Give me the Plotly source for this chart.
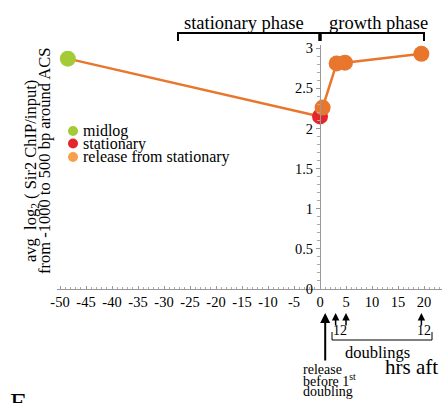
import plotly.graph_objects as go

# ---- data ----
hours = [-48.5, 0, 0.5, 3.2, 4.8, 19.5]
sir2_log2 = [2.87, 2.15, 2.26, 2.81, 2.82, 2.93]
stage = ["midlog", "stationary", "release", "release", "release", "release"]
stage_labels = ["midlog", "stationary", "release from stationary"]
x_ticks = [-50, -45, -40, -35, -30, -25, -20, -15, -10, -5, 0, 5, 10, 15, 20]
x_tick_labels = ["-50", "-45", "-40", "-35", "-30", "-25", "-20", "-15", "-10", "-5", "0", "5", "10", "15", "20"]
y_ticks = [0, 0.5, 1, 1.5, 2, 2.5, 3]
y_tick_labels = ["0", "0.5", "1", "1.5", "2", "2.5", "3"]
release_arrow_hr = 1.0
doubling_arrow_hrs = [3.0, 5.0, 19.5]

marker_colors = {"midlog": "#A3CB38", "stationary": "#E3262B", "release": "#E8762C"}
legend_colors = ["#A3CB38", "#E3262B", "#F6A04D"]
line_color = "#E8762C"
FONT = "Liberation Serif"

W, H = 442, 403
ML, MR, MT, MB = 57, 0, 45, 114
PW, PH = W - ML - MR, H - MT - MB
x_range = [-50.58, 23.46]
y_range = [0, 3.04]


def px(p):
    return (p - ML) / PW


def py(p):
    return (H - MB - p) / PH


fig = go.Figure()
fig.add_trace(go.Scatter(
    x=hours, y=sir2_log2, mode="lines+markers",
    line=dict(color=line_color, width=2.5),
    marker=dict(size=16, color=[marker_colors[s] for s in stage], line=dict(width=0)),
    showlegend=False, hoverinfo="x+y"))

yaxis_pos = (0 - x_range[0]) / (x_range[1] - x_range[0])

fig.update_layout(
    width=W, height=H,
    margin=dict(l=ML, r=MR, t=MT, b=MB, pad=0),
    paper_bgcolor="white", plot_bgcolor="white",
    font=dict(family=FONT, color="black"),
    xaxis=dict(range=x_range, tickmode="array", tickvals=x_ticks, ticktext=x_tick_labels,
               showgrid=False, zeroline=False, showline=True, linecolor="#999", linewidth=1,
               ticks="inside", ticklen=3, tickcolor="#999",
               minor=dict(tickmode="linear", tick0=0, dtick=1, ticks="inside", ticklen=2, tickcolor="#aaa"),
               tickfont=dict(family=FONT, size=14.5, color="black")),
    yaxis=dict(range=y_range, tickmode="array", tickvals=y_ticks, ticktext=y_tick_labels,
               anchor="free", position=yaxis_pos, side="left",
               showgrid=False, zeroline=False, showline=True, linecolor="#999", linewidth=1,
               ticks="outside", ticklen=4, tickcolor="#999",
               minor=dict(tickmode="linear", tick0=0, dtick=0.1, ticks="outside", ticklen=3, tickcolor="#aaa"),
               tickfont=dict(family=FONT, size=14.5, color="black")),
)

shapes = []
# top phase bracket
shapes.append(dict(type="line", xref="paper", yref="paper", x0=px(178), x1=px(424), y0=py(33), y1=py(33),
                   line=dict(color="black", width=2)))
for xp, w in [(178, 2), (320, 3.5), (424, 2)]:
    shapes.append(dict(type="line", xref="paper", yref="paper", x0=px(xp), x1=px(xp), y0=py(32), y1=py(41),
                       line=dict(color="black", width=w)))
# doublings bracket
shapes.append(dict(type="line", xref="paper", yref="paper", x0=px(332), x1=px(432), y0=py(340), y1=py(340),
                   line=dict(color="black", width=1)))
for xp in [332, 432]:
    shapes.append(dict(type="line", xref="paper", yref="paper", x0=px(xp), x1=px(xp), y0=py(340), y1=py(332),
                       line=dict(color="black", width=1)))
# legend dots
for i, c in enumerate(legend_colors):
    yc = [131, 143.5, 157][i]
    shapes.append(dict(type="circle", xref="paper", yref="paper", x0=px(68), x1=px(78),
                       y0=py(yc + 5), y1=py(yc - 5), fillcolor=c, line=dict(width=0)))
fig.update_layout(shapes=shapes)

ann = []


def text(t, xp, yp, size, xanchor="center", yanchor="middle", angle=0):
    ann.append(dict(text=t, xref="paper", yref="paper", x=px(xp), y=py(yp), showarrow=False,
                    xanchor=xanchor, yanchor=yanchor, textangle=angle,
                    font=dict(family=FONT, size=size, color="black")))


text("stationary phase", 244, 23, 18.5)
text("growth phase", 378, 23, 18.5)
# legend
for i, lab in enumerate(stage_labels):
    text(lab, 81, [131, 143.5, 157][i], 16, xanchor="left")
# y title
text("avg&nbsp;&nbsp;log<sub>2</sub> ( Sir2 ChIP/input)", 31, 171, 16.5, angle=-90)
text("from -1000 to 500 bp around ACS", 44, 161, 16.5, angle=-90)
# bottom annotations
text("12", 340, 330, 14)
text("12", 424, 330, 14)
text("doublings", 377, 352, 16.5)
text("hrs aft", 383, 367, 21, xanchor="left")
text("release", 301, 369, 14, xanchor="left")
text("before 1<sup>st</sup>", 301, 380, 14, xanchor="left")
text("doubling", 301, 391, 14, xanchor="left")
text("E", 8, 385, 28, xanchor="left", yanchor="top")

# arrows
ann.append(dict(text="", xref="x", yref="paper", x=release_arrow_hr, y=py(313), ax=0, ay=49,
                showarrow=True, arrowhead=2, arrowsize=1, arrowwidth=2, arrowcolor="black", standoff=0))
for h in doubling_arrow_hrs:
    ann.append(dict(text="", xref="x", yref="paper", x=h, y=py(313), ax=0, ay=14,
                    showarrow=True, arrowhead=2, arrowsize=1, arrowwidth=1.5, arrowcolor="black", standoff=0))

fig.update_layout(annotations=ann)
fig.write_html("out.html")
